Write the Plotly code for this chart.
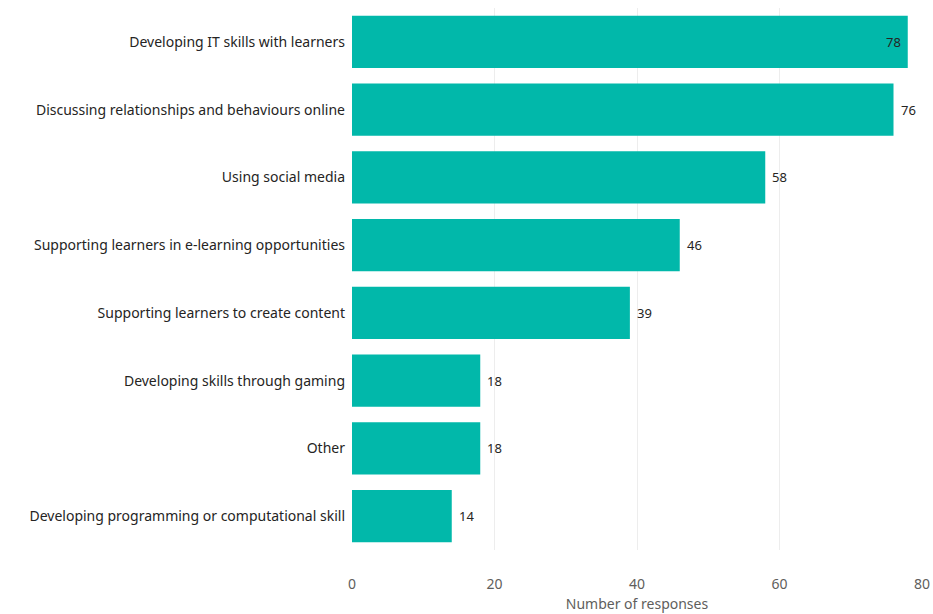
import plotly.graph_objects as go

# Activities, listed top to bottom
activities = [
    "Developing IT skills with learners",
    "Discussing relationships and behaviours online",
    "Using social media",
    "Supporting learners in e-learning opportunities",
    "Supporting learners to create content",
    "Developing skills through gaming",
    "Other",
    "Developing programming or computational skill",
]
responses = [78, 76, 58, 46, 39, 18, 18, 14]
x_ticks = [0, 20, 40, 60, 80]

FONT = "Noto Sans"
TEAL = "#01B8AA"

fig = go.Figure(
    go.Bar(
        x=responses,
        y=activities,
        orientation="h",
        marker=dict(color=TEAL, line=dict(width=0)),
        hoverinfo="skip",
    )
)

# Data labels: the longest bar carries its label inside, the rest sit just outside
top = max(responses)
for act, val in zip(activities, responses):
    inside = val == top
    fig.add_annotation(
        x=val,
        y=act,
        text=str(val),
        showarrow=False,
        xanchor="right" if inside else "left",
        xshift=-5 if inside else 5,
        font=dict(family=FONT, size=13, color="#252423"),
    )

fig.update_layout(
    width=933,
    height=614,
    margin=dict(l=352, r=11, t=8, b=64),
    paper_bgcolor="white",
    plot_bgcolor="white",
    bargap=0.23,
    showlegend=False,
    font=dict(family=FONT, size=14, color="#252423"),
)

fig.update_yaxes(
    autorange="reversed",
    automargin=False,
    showgrid=False,
    showline=False,
    ticks="",
    ticklabelstandoff=6,
    tickfont=dict(family=FONT, size=14, color="#252423"),
)

fig.update_xaxes(
    range=[0, 80],
    automargin=False,
    tickvals=x_ticks,
    showgrid=True,
    gridcolor="#EDEDED",
    gridwidth=1,
    zeroline=False,
    showline=False,
    ticks="",
    ticklabelstandoff=24,
    tickfont=dict(family=FONT, size=14, color="#605E5C"),
    title=dict(text="Number of responses", standoff=7,
               font=dict(family=FONT, size=14, color="#605E5C")),
)

fig.write_html("out.html")
